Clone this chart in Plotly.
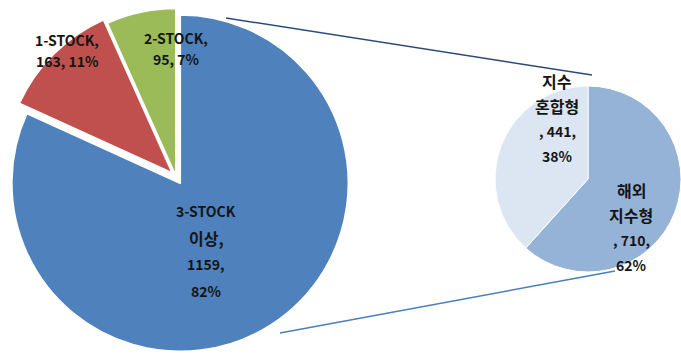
import plotly.graph_objects as go

W, H = 681, 358

# ---- data ----
main_labels = ["3-STOCK 이상", "1-STOCK", "2-STOCK"]
main_values = [1159, 163, 95]
main_pct = [82, 11, 7]
main_colors = ["#4F81BD", "#C0504D", "#9BBB59"]
main_pull = [0.045, 0.03, 0.0]

sub_labels = ["해외 지수형", "지수 혼합형"]
sub_values = [710, 441]
sub_pct = [62, 38]
sub_colors = ["#95B3D7", "#DCE6F2"]


def px_x(x):
    return x / W


def px_y(y):
    return 1 - y / H


fig = go.Figure()

fig.add_trace(go.Pie(
    labels=main_labels, values=main_values, sort=False, direction="clockwise",
    rotation=0, pull=main_pull, textinfo="none", hoverinfo="label+value+percent",
    marker=dict(colors=main_colors, line=dict(color="white", width=2)),
    domain=dict(x=[px_x(0), px_x(352)], y=[px_y(353), px_y(0.5)]),
))

fig.add_trace(go.Pie(
    labels=sub_labels, values=sub_values, sort=False, direction="clockwise",
    rotation=0, textinfo="none", hoverinfo="label+value+percent",
    marker=dict(colors=sub_colors, line=dict(color="white", width=1)),
    domain=dict(x=[px_x(495), px_x(681)], y=[px_y(272), px_y(86)]),
))

# connector lines
fig.add_shape(type="line", xref="paper", yref="paper",
              x0=px_x(226), y0=px_y(18), x1=px_x(592), y1=px_y(75),
              line=dict(color="#2B4A7A", width=1.5))
fig.add_shape(type="line", xref="paper", yref="paper",
              x0=px_x(280), y0=px_y(333), x1=px_x(615), y1=px_y(271),
              line=dict(color="#4A7EBB", width=1.5))


def is_korean(t):
    return any("\uac00" <= ch <= "\ud7a3" for ch in t)


def add_lines(lines, cx, y0, dy):
    for i, t in enumerate(lines):
        size = 16 if is_korean(t) else 14
        fig.add_annotation(x=px_x(cx), y=px_y(y0 + i * dy), xref="paper", yref="paper",
                           text="<b>" + t + "</b>", showarrow=False,
                           font=dict(family="Noto Sans CJK KR", size=size, color="#151515"),
                           xanchor="center", yanchor="middle")


blue_lines = main_labels[0].split(" ")
blue_lines[-1] += ","
blue_lines += [f"{main_values[0]},", f"{main_pct[0]}%"]
add_lines(blue_lines, 206, 211, 26.5)

add_lines([f"{main_labels[1]},", f"{main_values[1]}, {main_pct[1]}%"], 67, 40, 21)
add_lines([f"{main_labels[2]},", f"{main_values[2]}, {main_pct[2]}%"], 176, 38, 21)

s1 = sub_labels[1].split(" ") + [f", {sub_values[1]},", f"{sub_pct[1]}%"]
add_lines(s1, 557, 81, 25)
s0 = sub_labels[0].split(" ") + [f", {sub_values[0]},", f"{sub_pct[0]}%"]
add_lines(s0, 631, 190, 25)

fig.update_layout(
    width=W, height=H, margin=dict(l=0, r=0, t=0, b=0),
    paper_bgcolor="white", plot_bgcolor="white", showlegend=False,
)

fig.write_html("out.html")
